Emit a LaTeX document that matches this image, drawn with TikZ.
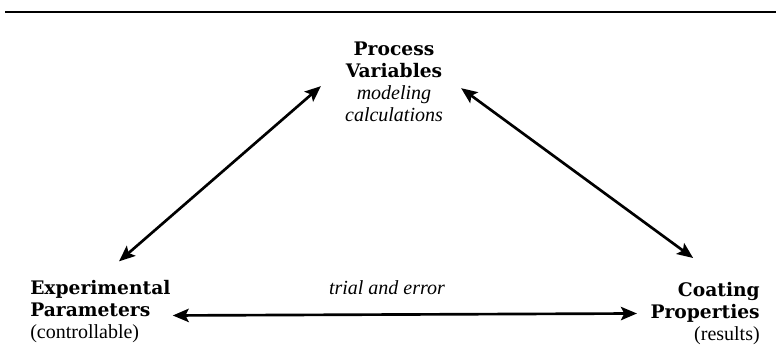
\documentclass[tikz,border=0pt]{standalone}
\usepackage{fontspec}
\setmainfont{Liberation Serif}[ItalicFont={Liberation Serif Italic}, BoldFont={Liberation Serif Bold}]
\newfontfamily\headfont{DejaVu Serif}
\usetikzlibrary{arrows.meta, positioning}

\newcommand{\hd}[1]{{\headfont\bfseries\fontsize{14}{16.5}\selectfont #1}}

\begin{document}
\begin{tikzpicture}[x=0.75pt, y=-0.75pt,
            box/.style={inner sep=0pt, font=\fontsize{15}{16.5}\selectfont},
            arr/.style={line width=2pt, {Stealth[length=12pt, width=10pt, inset=2.5pt]}-{Stealth[length=12pt, width=10pt, inset=2.5pt]}}]
            
            \useasboundingbox (0,0) rectangle (776,359);
            
            \draw[line width=2.2pt] (5,12) -- (776,12);
            
            \node[box, anchor=north, align=center] (proc) at (394,42)
            {\hd{Process}\\ \hd{Variables}\\ \textit{modeling}\\ \textit{calculations}};
            
            \node[box, anchor=north west, align=left] (exp) at (30,280)
            {\hd{Experimental}\\ \hd{Parameters}\\ (controllable)};
            
            \node[box, anchor=north east, align=right] (coat) at (760,282)
            {\hd{Coating}\\ \hd{Properties}\\ (results)};
            
            \node[box, font=\fontsize{15}{16.5}\selectfont\itshape] (trial) at (387,288) {trial and error};
            
            \draw[arr] ([xshift=14pt, yshift=14pt]exp.north) -- ([xshift=-18pt, yshift=-3pt]proc.west);
            \draw[arr] ([xshift=13.5pt, yshift=-4.5pt]proc.east) -- ([xshift=-9pt, yshift=18pt]coat.north);
            \draw[arr] ([xshift=1.5pt, yshift=-3pt]exp.east) -- ([xshift=-10pt]coat.west);
            
        \end{tikzpicture}
\end{document}
